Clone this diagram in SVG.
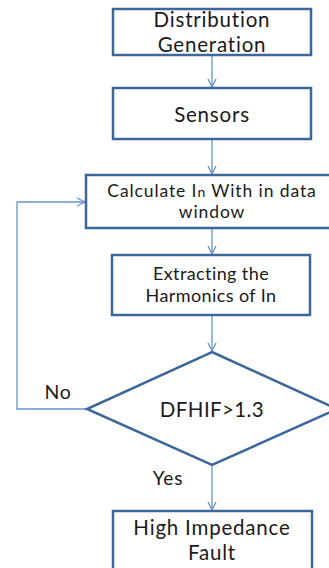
<svg xmlns="http://www.w3.org/2000/svg" width="329" height="568" viewBox="0 0 329 568">
<style>
.box{fill:#fff;stroke:#3d679a;stroke-width:2.5}
.t{font-family:Lato,"Open Sans",sans-serif;fill:#1a1a1a;text-anchor:middle;letter-spacing:0.8px}
.c{fill:none;stroke:#6693cc;stroke-width:1.3}
</style>
<defs>
<marker id="ar" viewBox="0 0 10 10" refX="9" refY="5" markerWidth="10" markerHeight="10" markerUnits="userSpaceOnUse" orient="auto">
<path d="M1,1 L9,5 L1,9" fill="none" stroke="#6693cc" stroke-width="1.3"/>
</marker>
</defs>
<rect width="329" height="568" fill="#fff"/>
<g id="connectors">
<line class="c" x1="212" y1="56" x2="212" y2="87" marker-end="url(#ar)"/>
<line class="c" x1="212" y1="140" x2="212" y2="174" marker-end="url(#ar)"/>
<line class="c" x1="212" y1="229" x2="212" y2="254" marker-end="url(#ar)"/>
<line class="c" x1="212" y1="316" x2="212" y2="351" marker-end="url(#ar)"/>
<line class="c" x1="212" y1="466" x2="212" y2="510" marker-end="url(#ar)"/>
<polyline class="c" points="87,409 17,409 17,202 85,202" marker-end="url(#ar)"/>
</g>
<g id="n1"><rect class="box" x="113" y="9" width="198" height="46"/>
<text class="t" x="212" y="27" font-size="20.5">Distribution</text>
<text class="t" x="212" y="52" font-size="20.5">Generation</text></g>
<g id="n2"><rect class="box" x="113" y="88" width="198" height="51"/>
<text class="t" x="212" y="122" font-size="20.5">Sensors</text></g>
<g id="n3"><rect class="box" x="86" y="175" width="250" height="53"/>
<text class="t" x="212" y="197" font-size="17.5" style="letter-spacing:0.9px">Calculate I<tspan font-size="14">n</tspan> With in data</text>
<text class="t" x="212" y="218" font-size="17.5" style="letter-spacing:0.9px">window</text></g>
<g id="n4"><rect class="box" x="112" y="255" width="198" height="60"/>
<text class="t" x="211" y="280" font-size="18" style="letter-spacing:0.4px">Extracting the</text>
<text class="t" x="211" y="302" font-size="18" style="letter-spacing:0.4px">Harmonics of In</text></g>
<g id="n5"><polygon class="box" points="212,352 337,409 212,465 87,409"/>
<text class="t" x="212" y="417" font-size="20.5" style="letter-spacing:0.4px">DFHIF&gt;1.3</text></g>
<g id="n6"><rect class="box" x="113" y="511" width="199" height="62"/>
<text class="t" x="212" y="535" font-size="20.5">High Impedance</text>
<text class="t" x="212" y="560" font-size="20.5">Fault</text></g>
<text class="t" x="58" y="399" font-size="19.5">No</text>
<text class="t" x="168" y="485" font-size="19">Yes</text>
</svg>
